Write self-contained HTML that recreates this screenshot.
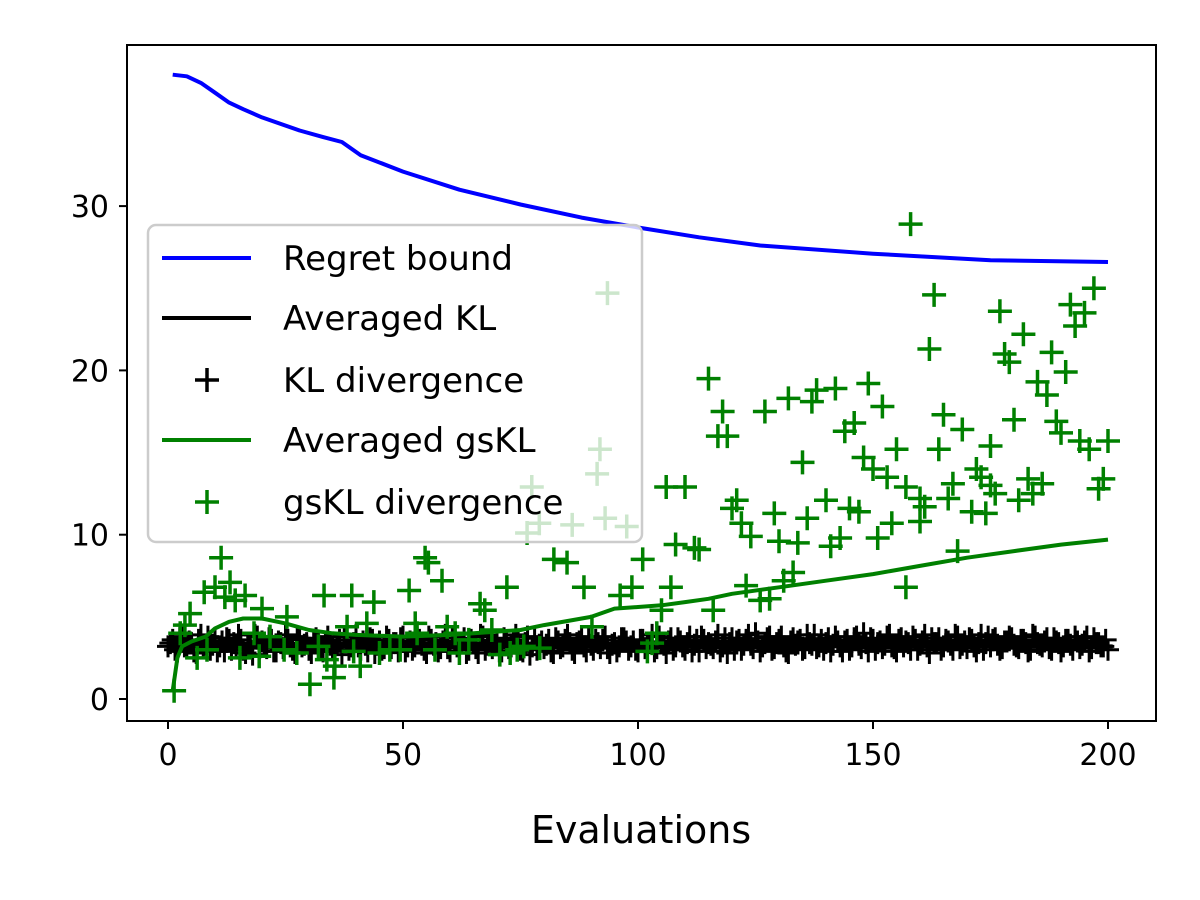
<!DOCTYPE html>
<html><head><meta charset="utf-8">
<style>
html,body{margin:0;padding:0;background:#fff;}
svg{display:block;font-family:"DejaVu Sans","Liberation Sans",sans-serif;}
</style></head>
<body>
<svg id="chart" width="1200" height="900" viewBox="0 0 1200 900">
<rect x="0" y="0" width="1200" height="900" fill="#fff"/>
<g id="marks"></g>
<g id="axes"></g>
<g id="legend"></g>
</svg>
<script>
const regretX = [1,4,7,10,13,16,20,28,33,37,41,50,62,75,88,100,113,126,150,175,200];
const regretY = [38.0,37.9,37.5,36.9,36.3,35.9,35.4,34.6,34.2,33.9,33.1,32.1,31.0,30.1,29.3,28.7,28.1,27.6,27.1,26.7,26.6];
const gsAvgX = [1,2,3,5,8,10,13,16,20,25,30,35,40,50,60,70,75,80,90,95,100,105,110,115,120,130,140,150,160,170,180,190,200];
const gsAvgY = [0.5,2.5,3.2,3.5,3.8,4.3,4.7,4.9,4.9,4.6,4.2,4.0,3.9,3.8,3.9,4.1,4.2,4.5,5.0,5.5,5.6,5.7,5.9,6.1,6.4,6.8,7.2,7.6,8.1,8.6,9.0,9.4,9.7];
const klAvgX = [0,201];
const klAvgY = [3.2,3.2];
const klVals = [3.2,3.6,2.9,3.8,3.1,3.4,2.8,3.9,3.3,3.0,3.7,3.2,2.9,3.6,3.4,3.9,3.0,3.3,2.7,3.8,
3.5,3.1,3.6,2.9,3.4,3.9,3.2,2.8,3.7,3.3,3.0,3.6,3.5,2.9,3.8,3.1,3.4,2.7,3.6,3.2,
3.9,3.0,3.3,3.7,2.8,3.5,3.1,3.6,3.4,2.9,3.8,3.2,3.0,3.7,3.3,2.8,3.6,3.4,3.1,3.9,
2.9,3.5,3.2,3.7,3.0,3.4,2.8,3.8,3.3,3.1,3.6,2.9,3.5,3.2,3.9,3.0,3.4,2.7,3.7,3.3,
3.1,3.6,2.8,3.5,3.2,3.9,3.0,3.4,3.7,2.9,3.3,3.6,3.1,3.8,2.8,3.4,3.2,3.7,3.0,3.5,
2.9,3.6,3.3,3.9,3.1,3.4,2.8,3.7,3.2,3.5,3.0,3.8,3.3,2.9,3.6,3.4,3.1,3.9,3.2,2.8,
3.7,3.5,3.0,3.6,3.3,4.0,2.9,3.4,3.8,3.1,3.6,3.2,2.8,3.7,3.5,3.0,3.9,3.3,3.1,3.6,
3.4,2.9,3.8,3.2,3.5,3.0,3.7,3.3,4.0,2.9,3.6,3.4,3.1,3.8,3.2,2.9,3.7,3.5,3.0,3.6,
3.3,3.9,2.8,3.4,3.7,3.2,3.5,3.0,3.8,3.3,3.1,3.6,2.9,3.9,3.4,3.2,3.7,3.0,3.5,3.8,
3.3,3.1,3.6,2.9,3.9,3.4,3.2,3.7,3.0,3.5,2.9,3.6,3.3,3.8,3.1,3.5,2.9,3.7,3.4,3.2,
3.0];
const klVals2 = [3.4,3.0,3.7,3.2,3.5,2.9,3.6,3.1,3.8,3.3,2.9,3.5,3.7,3.0,3.2,3.6,2.8,3.4,3.9,3.1,
3.3,3.7,2.9,3.5,3.1,3.6,3.0,3.8,3.2,3.4,2.8,3.7,3.1,3.5,3.3,2.9,3.6,3.8,3.0,3.4,
3.2,3.5,2.9,3.6,3.3,3.0,3.8,3.1,3.4,3.7,2.9,3.5,3.2,3.6,3.0,3.8,3.3,2.9,3.5,3.1,
3.7,3.2,3.4,2.8,3.6,3.1,3.9,3.0,3.5,3.3,2.9,3.7,3.1,3.4,3.6,2.9,3.8,3.2,3.0,3.5,
3.3,2.9,3.7,3.1,3.6,3.4,2.8,3.5,3.2,3.8,3.0,3.4,3.6,3.1,3.3,2.9,3.7,3.5,3.2,3.0,
3.6,3.1,3.4,2.9,3.8,3.3,3.5,3.0,3.7,3.2,3.4,2.9,3.6,3.8,3.1,3.3,3.5,2.9,3.7,3.4,
3.0,3.6,3.3,3.9,3.1,3.5,3.2,3.7,3.0,3.4,3.8,2.9,3.5,3.3,3.6,3.1,3.4,3.9,3.2,3.0,
3.7,3.3,3.5,2.9,3.6,3.2,3.8,3.1,3.4,3.7,3.0,3.5,3.3,3.9,3.1,3.6,3.2,3.4,3.8,3.0,
3.5,3.2,3.7,3.4,3.0,3.6,3.3,3.9,3.1,3.5,3.7,3.2,3.4,3.0,3.8,3.6,3.3,3.1,3.5,3.7,
3.2,3.6,3.4,3.0,3.8,3.3,3.5,3.1,3.7,3.4,3.2,3.6,3.0,3.5,3.3,3.8,3.1,3.4,3.2,3.6];
const gsX = [1.3,2.6,3.6,4.7,6.2,8.3,7.7,10,11.3,12.1,13.2,14.3,16.4,15.3,18.3,19.4,20,21.7,25.3,24.7,27.4,30.2,33.2,33.8,35.3,38.1,39.1,43.8,40.9,42.3,47.2,51.3,52.6,54.7,55.4,58.3,59.4,61.1,66.4,67.4,72.1,68.9,70.6,75.7,79.1,82.1,84.9,88.5,90.2,96.2,98.7,
77.4,91.9,91.3,79,86,93,97.6,76.4,93.5,
32,35.5,39.5,45,49.4,53,56.8,62,64,72.8,74.3,
158,163,197,177,192,195,193,182,162,178,179,188,191,185,187,115,118,127,132,138,137,142,149,152,146,144,117,119,165,169,180,189,190,194,196,200,199,198,135,148,155,164,175,150,153,157,160,161,167,172,173,175,176,166,183,186,184,181,171,174,106,110,121,120,129,136,140,145,147,122,124,130,134,143,141,151,154,160,168,108,112,113,101,107,123,133,131,126,128,116,157,105,104,102,103];
const gsY = [0.5,4.0,4.5,5.2,2.5,3.0,6.5,6.8,8.6,6.2,7.1,6.0,6.3,2.5,4.0,2.6,5.5,3.8,5.0,3.0,2.8,0.9,6.3,2.4,1.3,4.4,6.3,5.9,2.0,4.6,3.0,6.6,4.6,8.6,8.3,7.2,4.4,4.0,5.8,5.4,6.8,4.2,2.7,3.2,3.1,8.5,8.3,6.8,4.4,6.3,6.8,
12.9,15.2,13.7,10.7,10.6,11.0,10.5,10.1,24.7,
3.2,2.0,2.9,2.8,3.0,4.0,3.0,2.8,3.6,2.8,3.0,
28.9,24.6,25.0,23.6,24.0,23.5,22.7,22.2,21.3,21.0,20.5,21.1,19.9,19.3,18.5,19.5,17.5,17.5,18.3,18.8,18.1,18.9,19.2,17.8,16.8,16.3,16.0,16.0,17.3,16.4,17.0,16.9,16.2,15.7,15.2,15.7,13.4,12.8,14.4,14.7,15.2,15.2,15.4,14.0,13.5,12.9,12.2,11.7,13.1,14.0,13.5,13.0,12.5,12.2,13.4,13.1,12.5,12.1,11.4,11.3,12.9,12.9,12.1,11.6,11.3,11.0,12.1,11.6,11.4,10.7,9.9,9.6,9.5,9.8,9.3,9.8,10.7,10.8,9.0,9.4,9.2,9.1,8.5,6.8,6.9,7.7,7.2,6.0,6.1,5.4,6.8,5.4,4.0,2.9,3.4];
const xTicks = [0,50,100,150,200];
const yTicks = [0,10,20,30];

const NS="http://www.w3.org/2000/svg";
const L=127,R=1156,T=45,B=721;
function sx(v){return 168+(v)*4.70;}
function sy(v){return 699-(v)*16.43;}
function mk(tag,attrs,parent){const e=document.createElementNS(NS,tag);for(const k in attrs)e.setAttribute(k,attrs[k]);parent.appendChild(e);return e;}
const marks=document.getElementById('marks');
const axes=document.getElementById('axes');
const legend=document.getElementById('legend');

function plus(cx,cy,h,color,w,parent){
  return mk('path',{d:`M${cx-h},${cy}H${cx+h}M${cx},${cy-h}V${cy+h}`,stroke:color,'stroke-width':w,fill:'none'},parent);
}
function line(xs,ys,color,name){
  let d=xs.map((x,i)=>(i?'L':'M')+sx(x).toFixed(1)+','+sy(ys[i]).toFixed(1)).join('');
  const p=mk('path',{d:d,stroke:color,'stroke-width':4,fill:'none','stroke-linejoin':'round'},marks);
  
  
}
line(regretX,regretY,'#0000ff','regret-bound-line');
const klG=mk('g',{},marks);


klVals.forEach((v,i)=>{
  const p=plus(sx(i),sy(v),11,'#000',3,klG);
  
  
});
klVals2.forEach((v,i)=>{
  const p=plus(sx(i+0.5),sy(v),11,'#000',3,klG);
  
  
});
line(klAvgX,klAvgY,'#000','averaged-kl-line');
line(gsAvgX,gsAvgY,'#008000','averaged-gskl-line');
const gsG=mk('g',{},marks);


gsX.forEach((x,i)=>{
  const p=plus(sx(x),sy(gsY[i]),12,'#008000',3.5,gsG);
  
  
});
const fr=mk('rect',{x:L,y:T,width:R-L,height:B-T,fill:'none',stroke:'#000','stroke-width':2},axes);


xTicks.forEach(t=>{
  const x=sx(t);
  mk('line',{x1:x,y1:B,x2:x,y2:B+8,stroke:'#000','stroke-width':2},axes);
  const tx=mk('text',{x:x,y:B+44,'text-anchor':'middle','font-size':30,fill:'#000'},axes);
  tx.textContent=t;
  
  
});
yTicks.forEach(t=>{
  const y=sy(t);
  mk('line',{x1:L-8,y1:y,x2:L,y2:y,stroke:'#000','stroke-width':2},axes);
  const tx=mk('text',{x:L-18,y:y+11,'text-anchor':'end','font-size':30,fill:'#000'},axes);
  tx.textContent=t;
  
  
});
const xl=mk('text',{x:641,y:843,'text-anchor':'middle','font-size':38,fill:'#000'},axes);
xl.textContent='Evaluations';


const lb=mk('rect',{x:148,y:225,width:494,height:317,rx:8,fill:'rgba(255,255,255,0.8)',stroke:'#cccccc','stroke-width':2.5},legend);


const entries=[['Regret bound','line','#0000ff'],['Averaged KL','line','#000'],['KL divergence','plus','#000'],['Averaged gsKL','line','#008000'],['gsKL divergence','plus','#008000']];
const rowsY=[258,318,380,440,502];
entries.forEach((e,i)=>{
  const g=mk('g',{},legend);
  
  
  const y=rowsY[i];
  if(e[1]==='line') mk('line',{x1:162,y1:y,x2:251,y2:y,stroke:e[2],'stroke-width':4},g);
  else plus(207,y,12,e[2],3.5,g);
  const t=mk('text',{x:283,y:y+12,'font-size':34,fill:'#000'},g);
  t.textContent=e[0];
});
</script>
</body></html>
